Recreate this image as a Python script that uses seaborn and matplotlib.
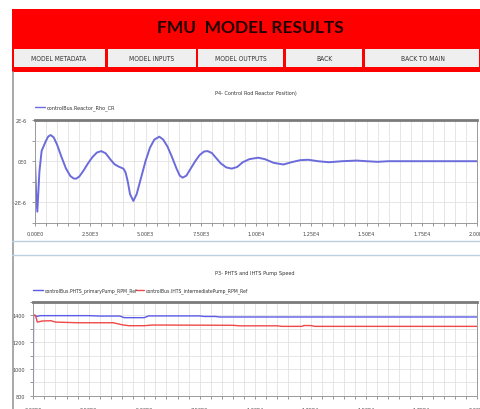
import numpy as np
import pandas as pd
import matplotlib
matplotlib.use("Agg")
import matplotlib.pyplot as plt
from matplotlib.patches import Rectangle
from matplotlib.lines import Line2D
from matplotlib.ticker import MultipleLocator, FixedLocator
import seaborn as sns

# --- data ---
buttons = ['MODEL METADATA', 'MODEL INPUTS', 'MODEL OUTPUTS', 'BACK', 'BACK TO MAIN']
button_edges = [12, 106, 197, 285, 364, 481]

rho_t = [0, 50, 105, 200, 300, 400, 500, 600, 710, 850, 1000, 1200, 1400, 1600, 1750,
         1855, 2000, 2200, 2400, 2600, 2800, 3000, 3200, 3400, 3600, 3800, 4000, 4100,
         4200, 4300, 4450, 4600, 4800, 5000, 5200, 5400, 5625, 5800, 6000, 6200, 6400,
         6550, 6680, 6850, 7050, 7250, 7450, 7650, 7810, 8000, 8200, 8400, 8650, 8900,
         9150, 9400, 9700, 10100, 10400, 10800, 11240, 11600, 12000, 12370, 12800,
         13300, 13900, 14560, 15000, 15500, 16000, 20000]
rho_val = [0.0, -1.5, -2.45, -0.5, 0.5, 0.75, 1.0, 1.2, 1.27, 1.15, 0.8, 0.2, -0.35,
           -0.72, -0.84, -0.85, -0.75, -0.45, -0.1, 0.2, 0.42, 0.49, 0.38, 0.1, -0.15,
           -0.27, -0.36, -0.55, -1.0, -1.6, -1.93, -1.6, -0.8, 0.0, 0.65, 1.05, 1.19,
           1.05, 0.7, 0.2, -0.35, -0.7, -0.8, -0.7, -0.35, 0.0, 0.3, 0.47, 0.49, 0.4,
           0.15, -0.1, -0.3, -0.36, -0.28, -0.05, 0.1, 0.17, 0.1, -0.08, -0.16, -0.05,
           0.05, 0.07, 0.0, -0.05, 0.0, 0.03, 0.0, -0.03, 0.0, 0.0]  # x 1E-6

pri_t = [0, 10, 150, 300, 2500, 3000, 3900, 4100, 5000, 5200, 7500, 7700, 8200, 8400, 20000]
pri_rpm = [800, 1405, 1392, 1398, 1398, 1395, 1395, 1383, 1383, 1396, 1396, 1392, 1392,
           1388, 1388]
int_t = [0, 100, 180, 400, 800, 1000, 2000, 3600, 4000, 4300, 5000, 5400, 9000, 9300,
         11000, 11200, 12100, 12200, 12500, 12700, 20000]
int_rpm = [1400, 1400, 1350, 1358, 1360, 1350, 1345, 1345, 1330, 1323, 1323, 1328, 1326,
           1322, 1322, 1318, 1318, 1324, 1324, 1318, 1318]

x_ticks = [0, 2500, 5000, 7500, 10000, 12500, 15000, 17500, 20000]
x_labels = ['0.00E0', '2.50E3', '5.00E3', '7.50E3', '1.00E4', '1.25E4', '1.50E4',
            '1.75E4', '2.00E4']
rho_ticks = [2e-6, 0, -2e-6]
rho_labels = ['2E-6', '0E0', '-2E-6']
rpm_ticks = [1400, 1200, 1000, 800]
rpm_labels = ['1400', '1200', '1000', '800']

rho_df = pd.DataFrame({'t': rho_t, 'rho': np.array(rho_val) * 1e-6})
pump_df = pd.concat([
    pd.DataFrame({'t': pri_t, 'rpm': pri_rpm, 'series': 'controlBus.PHTS_primaryPump_RPM_Ref'}),
    pd.DataFrame({'t': int_t, 'rpm': int_rpm, 'series': 'controlBus.IHTS_intermediatePump_RPM_Ref'}),
])

sns.set_style('white')
plt.rcParams['font.family'] = ['DejaVu Sans']
plt.rcParams['font.stretch'] = 'condensed'
small = 4.0

W, H = 481, 410
fig = plt.figure(figsize=(W / 100, H / 100), dpi=100)


def fx(x):
    return x / W


def fy(y):
    return 1 - y / H


def rect(x0, y0, x1, y1, **kw):
    fig.add_artist(Rectangle((fx(x0), fy(y1)), fx(x1) - fx(x0), fy(y0) - fy(y1),
                             transform=fig.transFigure, **kw))


def hline(x0, x1, y, **kw):
    fig.add_artist(Line2D([fx(x0), fx(x1)], [fy(y), fy(y)], transform=fig.transFigure, **kw))


# header
rect(12, 10, 481, 73, facecolor='#fe0000', edgecolor='none')
fig.text(fx(250), fy(28), 'FMU  MODEL RESULTS', ha='center', va='center', fontsize=12.5,
         fontweight='bold', color='#220000', family=['Lato', 'DejaVu Sans'],
         fontstretch='normal')
for i, lab in enumerate(buttons):
    x0, x1 = button_edges[i] + 1.5, button_edges[i + 1] - 1.5
    rect(x0, 50, x1, 68, facecolor='#efefef', edgecolor='none')
    fig.text(fx((x0 + x1) / 2), fy(59), lab, ha='center', va='center', fontsize=4.8,
             color='#333333')

# panel borders
fig.add_artist(Line2D([fx(12.5), fx(12.5)], [fy(73), fy(410)], transform=fig.transFigure,
                      color='#9a9a9a', lw=1.2))
hline(12, 481, 242, color='#b8d0e0', lw=1.0)
hline(12, 481, 256, color='#b8d0e0', lw=1.0)


def style_axes(ax, ylim, yminor):
    ax.set_xlim(0, 20000)
    ax.set_ylim(*ylim)
    ax.xaxis.set_minor_locator(MultipleLocator(500))
    ax.yaxis.set_minor_locator(MultipleLocator(yminor))
    ax.grid(True, which='both', color='#e2e2e2', lw=0.6)
    ax.set_axisbelow(True)
    for s in ax.spines.values():
        s.set_color('#9a9a9a')
        s.set_linewidth(0.7)
    ax.spines['top'].set_color('#7a7a7a')
    ax.spines['top'].set_linewidth(2)
    ax.tick_params(which='both', direction='out', length=2.2, width=0.6, color='#888888',
                   labelsize=small, labelcolor='#444444', pad=3.5, bottom=True, left=True)
    ax.set_xlabel('')
    ax.set_ylabel('')


# top chart
ax1 = fig.add_axes([fx(35), fy(224), fx(477) - fx(35), fy(121) - fy(224)])
sns.lineplot(data=rho_df, x='t', y='rho', ax=ax1, color='#6b6bdc', lw=1.4, estimator=None,
             legend=False)
style_axes(ax1, (-3e-6, 2e-6), 1e-6)
ax1.xaxis.set_major_locator(FixedLocator(x_ticks))
ax1.set_xticklabels(x_labels)
ax1.yaxis.set_major_locator(FixedLocator(rho_ticks))
ax1.set_yticklabels(rho_labels)
fig.text(fx(256), fy(93), 'P4- Control Rod Reactor Position)', ha='center', va='center',
         fontsize=small, color='#333333')
fig.add_artist(Line2D([fx(35), fx(45)], [fy(108), fy(108)], transform=fig.transFigure,
                      color='#6b6bdc', lw=1))
fig.text(fx(47), fy(108), 'controlBus.Reactor_Rho_CR', ha='left', va='center',
         fontsize=small, color='#333333')

# bottom chart
ax2 = fig.add_axes([fx(33.3), fy(396.7), fx(477) - fx(33.3), fy(303) - fy(396.7)])
sns.lineplot(data=pump_df, x='t', y='rpm', hue='series', ax=ax2,
             palette=['#5a5ae8', '#ee4848'], lw=1.0, estimator=None, legend=False)
style_axes(ax2, (800, 1500), 100)
ax2.xaxis.set_major_locator(FixedLocator(x_ticks))
ax2.set_xticklabels(x_labels)
ax2.yaxis.set_major_locator(FixedLocator(rpm_ticks))
ax2.set_yticklabels(rpm_labels)
ax2.tick_params(axis='x', pad=6)
fig.text(fx(255), fy(274), 'P3- PHTS and IHTS Pump Speed', ha='center', va='center',
         fontsize=small, color='#333333')
fig.add_artist(Line2D([fx(33), fx(43)], [fy(291), fy(291)], transform=fig.transFigure,
                      color='#5a5ae8', lw=1))
fig.text(fx(45), fy(291), 'controlBus.PHTS_primaryPump_RPM_Ref', ha='left', va='center',
         fontsize=3.7, color='#333333')
fig.add_artist(Line2D([fx(136), fx(144)], [fy(291), fy(291)], transform=fig.transFigure,
                      color='#ee4848', lw=1))
fig.text(fx(146), fy(291), 'controlBus.IHTS_intermediatePump_RPM_Ref', ha='left',
         va='center', fontsize=3.7, color='#333333')

fig.savefig('out.png', dpi=100)
